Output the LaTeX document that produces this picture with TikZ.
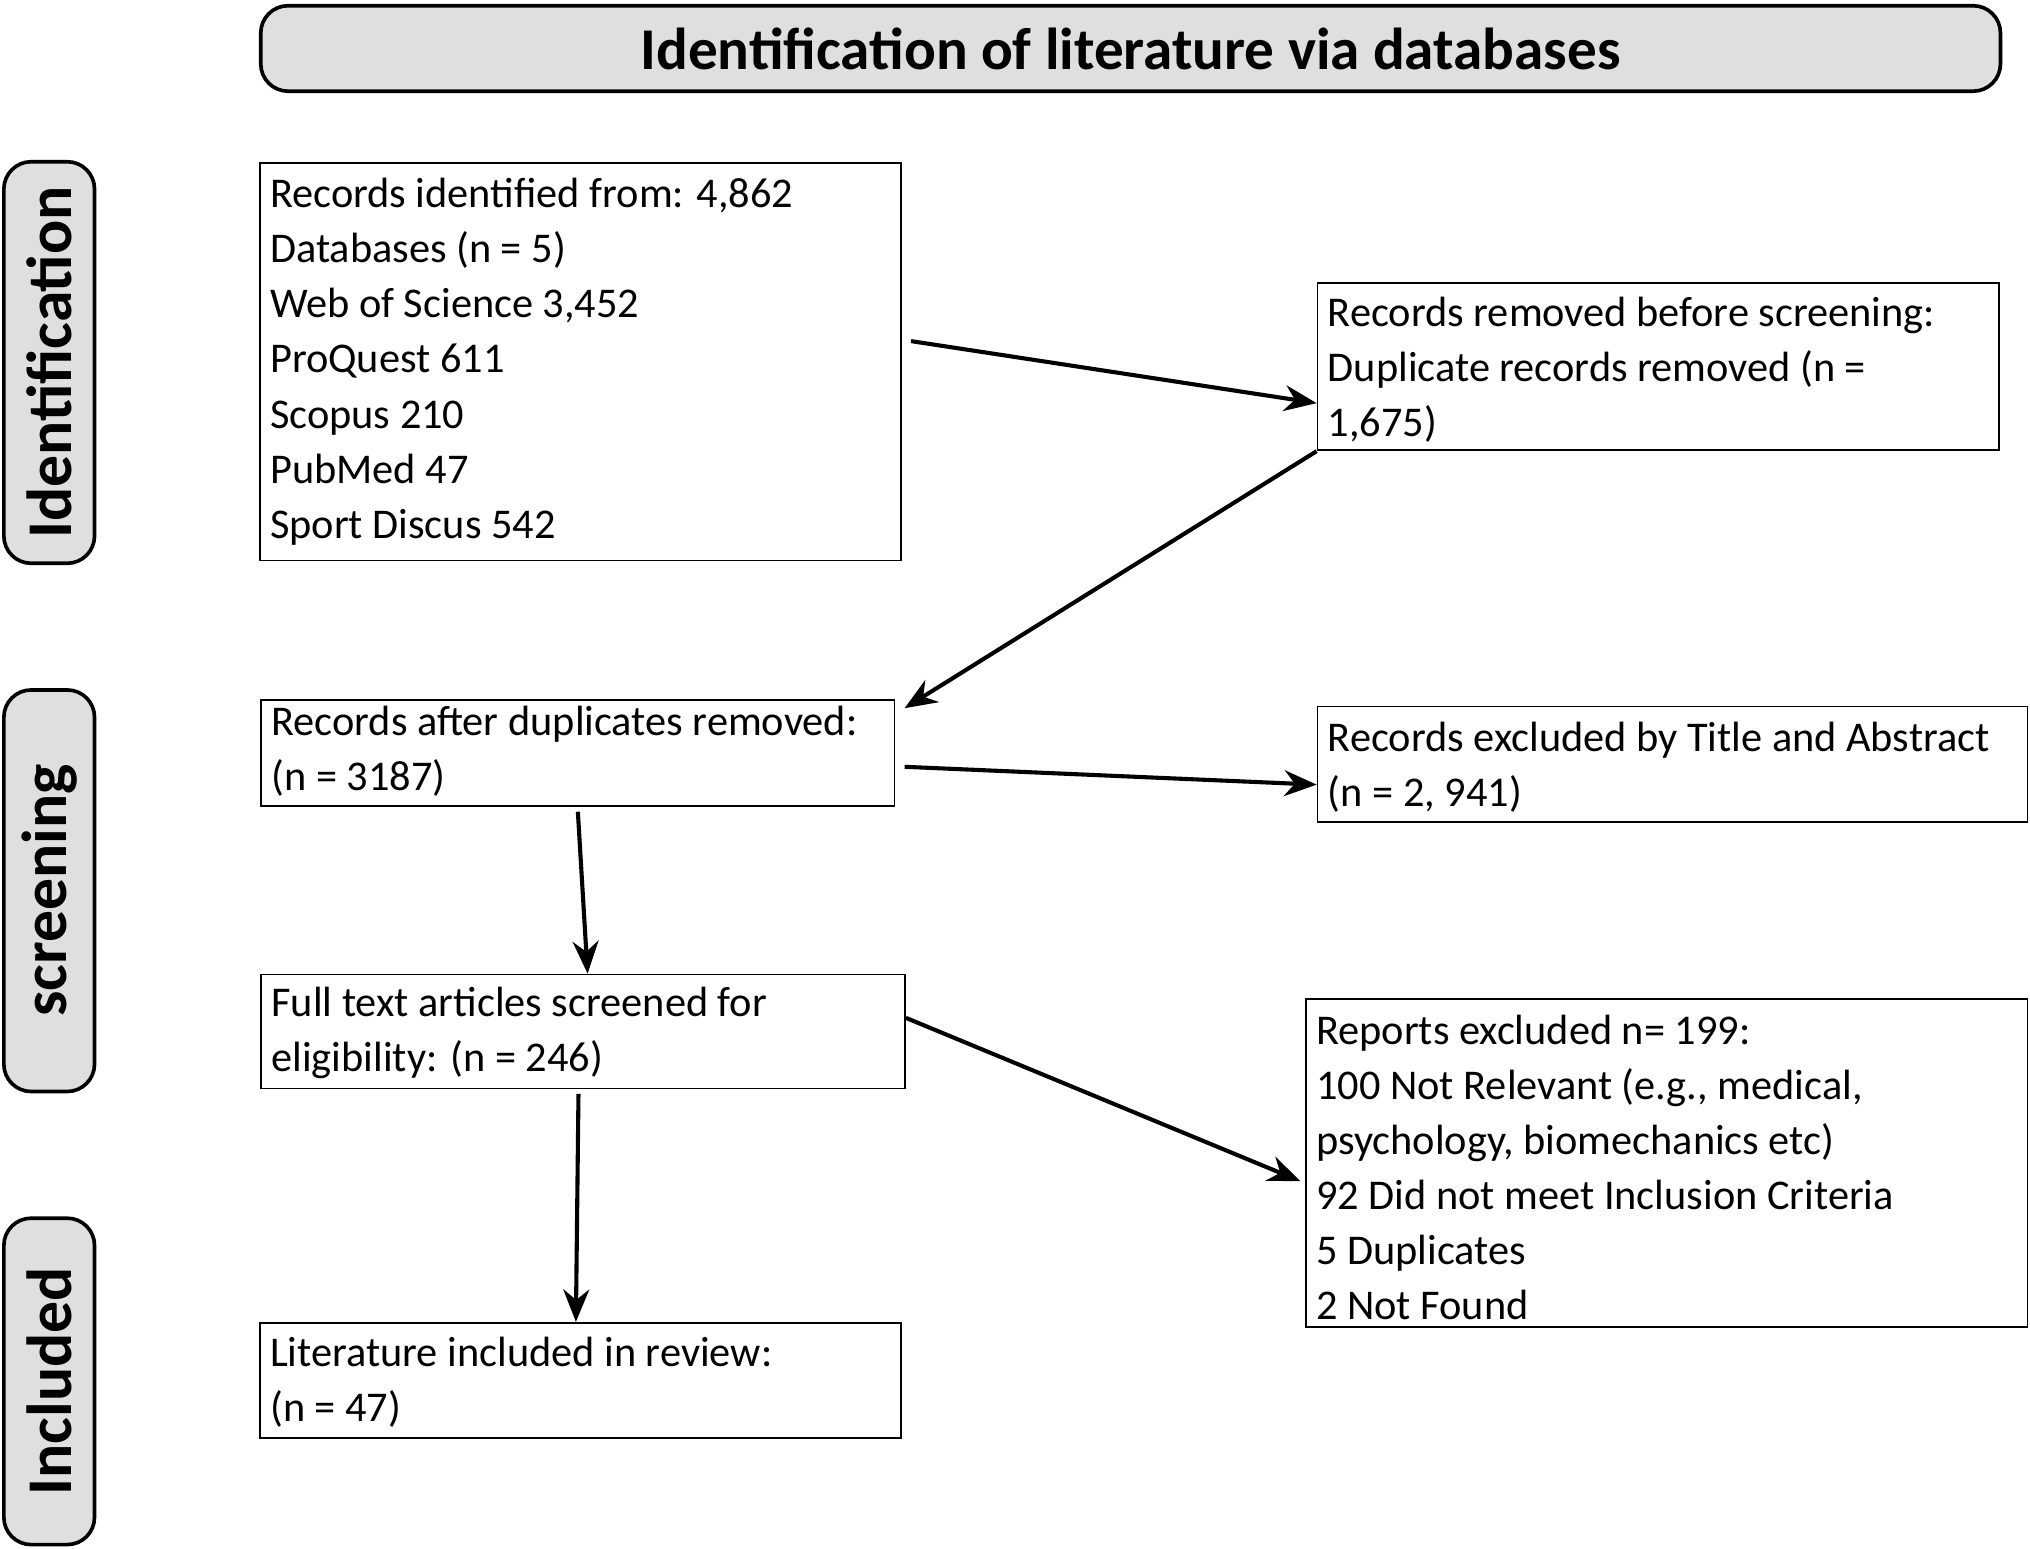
\documentclass[tikz,border=0pt]{standalone}
\usepackage{fontspec}
\setmainfont{Carlito}
\usetikzlibrary{positioning}
\usetikzlibrary{arrows.meta}

\begin{document}
\begin{tikzpicture}[x=0.01cm,y=-0.01cm,
    box/.style={draw=black,anchor=north west,inner sep=0pt,font=\fontsize{9.3}{12.1}\selectfont},
    phase/.style={draw=black,rounded corners=6pt,fill=gray!25,line width=0.8pt},
    arr/.style={-{Stealth[length=2.5mm,width=2mm]},line width=0.9pt}]
    \useasboundingbox (0,0) rectangle (1568,1196);

    \node[phase,minimum width=13.43cm,minimum height=0.66cm,anchor=north west,
      font=\fontsize{13}{15}\selectfont\bfseries] (head) at (200,3) {Identification of literature via databases};
    \node[phase,minimum width=3.10cm,minimum height=0.70cm,rotate=90,
      font=\fontsize{14}{16}\selectfont\bfseries] (side1) at (38,280) {Identification};
    \node[phase,minimum width=3.10cm,minimum height=0.70cm,rotate=90,
      font=\fontsize{14}{16}\selectfont\bfseries] (side2) at (38,688) {screening};
    \node[phase,minimum width=2.52cm,minimum height=0.70cm,rotate=90,
      font=\fontsize{14}{16}\selectfont\bfseries] (side3) at (38,1067) {Included};

    \node[box,minimum width=4.95cm,minimum height=3.07cm] (ident) at (200,125) {};
    \node[anchor=north west,align=left,inner sep=0pt,font=\fontsize{9.3}{12.1}\selectfont] at (208,137)
      {Records identified from: 4,862\\Databases (n = 5)\\Web of Science 3,452\\ProQuest 611\\Scopus 210\\PubMed 47\\Sport Discus 542};

    \node[box,minimum width=5.26cm,minimum height=1.29cm] (dup) at (1017,218) {};
    \node[anchor=north west,align=left,inner sep=0pt,font=\fontsize{9.3}{12.1}\selectfont] at (1025,229)
      {Records removed before screening:\\Duplicate records removed (n =\\1,675)};

    \node[box,minimum width=4.89cm,minimum height=0.82cm] (after) at (201,540) {};
    \node[anchor=north west,align=left,inner sep=0pt,font=\fontsize{9.3}{12.1}\selectfont] at (209,545)
      {Records after duplicates removed:\\(n = 3187)};

    \node[box,minimum width=5.48cm,minimum height=0.89cm] (title) at (1017,545) {};
    \node[anchor=north west,align=left,inner sep=0pt,font=\fontsize{9.3}{12.1}\selectfont] at (1025,557)
      {Records excluded by Title and Abstract\\(n = 2, 941)};

    \node[box,minimum width=4.97cm,minimum height=0.88cm] (full) at (201,752) {};
    \node[anchor=north west,align=left,inner sep=0pt,font=\fontsize{9.3}{12.1}\selectfont] at (209,762)
      {Full text articles screened for\\eligibility: (n = 246)};

    \node[box,minimum width=5.57cm,minimum height=2.53cm] (reports) at (1008,771) {};
    \node[anchor=north west,align=left,inner sep=0pt,font=\fontsize{9.3}{12.1}\selectfont] at (1016,783)
      {Reports excluded n= 199:\\100 Not Relevant (e.g., medical,\\psychology, biomechanics etc)\\92 Did not meet Inclusion Criteria\\5 Duplicates\\2 Not Found};

    \node[box,minimum width=4.95cm,minimum height=0.89cm] (incl) at (200,1021) {};
    \node[anchor=north west,align=left,inner sep=0pt,font=\fontsize{9.3}{12.1}\selectfont] at (208,1032)
      {Literature included in review:\\(n = 47)};

    \draw[arr] ([xshift=2pt,yshift=4.5pt]ident.east) -- ([yshift=-8pt]dup.west);
    \draw[arr] (dup.south west) -- ([xshift=2pt,yshift=-2pt]after.north east);
    \draw[arr] ([xshift=2pt,yshift=-3pt]after.east) -- ([yshift=-4.5pt]title.west);
    \draw[arr] ([yshift=-1pt]after.south) -- ([xshift=1pt]full.north);
    \draw[arr] ([yshift=3pt]full.east) -- ([xshift=-1pt,yshift=-4pt]reports.west);
    \draw[arr] ([xshift=-1pt,yshift=-1pt]full.south) -- ([xshift=-1pt]incl.north);
\end{tikzpicture}
\end{document}
